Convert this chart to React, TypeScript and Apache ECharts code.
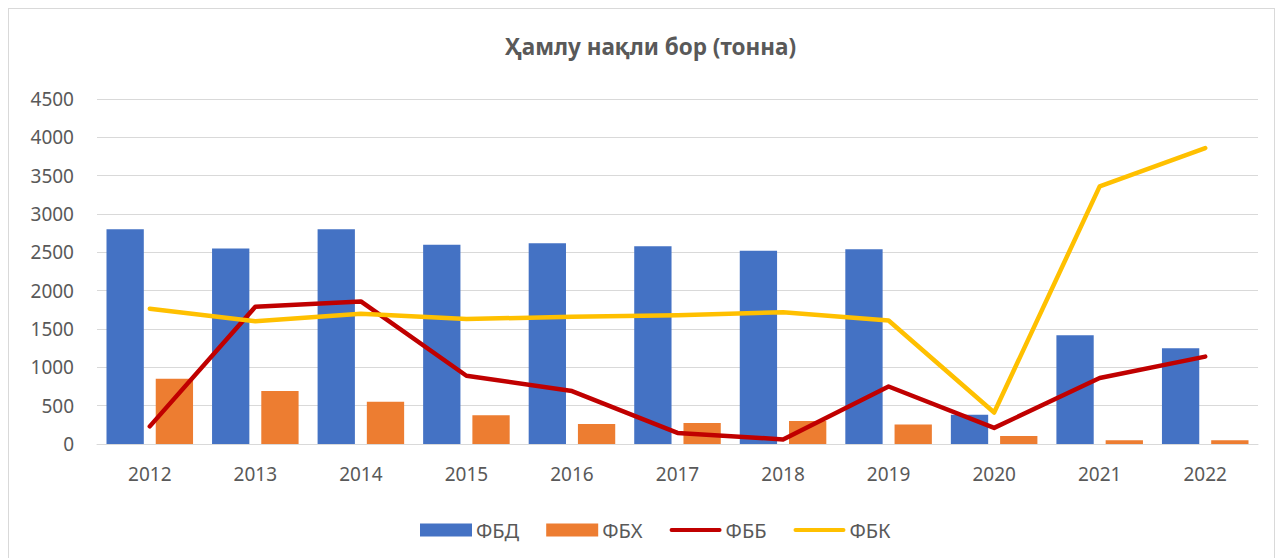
import React, { useEffect, useRef } from "react";
import * as echarts from "echarts";

const years = ["2012", "2013", "2014", "2015", "2016", "2017", "2018", "2019", "2020", "2021", "2022"];
const fbd = [2800, 2550, 2800, 2600, 2620, 2580, 2520, 2540, 380, 1420, 1250];
const fbh = [850, 690, 550, 375, 260, 275, 300, 255, 105, 50, 50];
const fbb = [230, 1790, 1860, 890, 690, 145, 60, 750, 210, 860, 1140];
const fbk = [1765, 1600, 1700, 1630, 1660, 1680, 1720, 1610, 410, 3360, 3860];
const title = "Ҳамлу нақли бор (тонна)";
const names = ["ФБД", "ФБХ", "ФББ", "ФБК"];

const FONT = "'Noto Sans', 'Open Sans', sans-serif";
const LINE_ICON = "path://M2,0 L50,0 A2,2 0 0 1 50,4 L2,4 A2,2 0 0 1 2,0 Z";

export default function App() {
  const ref = useRef<HTMLDivElement>(null);
  useEffect(() => {
    if (!ref.current) return;
    const chart = echarts.init(ref.current, null, { renderer: "svg" });
    chart.setOption({
      animation: false,
      graphic: [
        {
          type: "text",
          left: 496,
          top: 26,
          style: {
            text: title,
            fontFamily: FONT,
            fontSize: 22.5,
            fontWeight: "bold",
            fill: "#595959",
          },
        },
      ],
      grid: { left: 88, right: 16, top: 90, bottom: 115, containLabel: false },
      legend: {
        bottom: 14,
        left: 406,
        itemWidth: 52,
        itemHeight: 13,
        itemGap: 27,
        textStyle: { fontFamily: FONT, fontSize: 20, color: "#595959", padding: [0, 0, 0, -1] },
        data: [
          { name: names[0], icon: "rect" },
          { name: names[1], icon: "rect" },
          { name: names[2], icon: LINE_ICON },
          { name: names[3], icon: LINE_ICON },
        ],
      },
      xAxis: {
        type: "category",
        data: years,
        axisLine: { lineStyle: { color: "#d9d9d9", width: 1 } },
        axisTick: { show: false },
        axisLabel: { fontFamily: FONT, fontSize: 19, color: "#595959", margin: 20 },
      },
      yAxis: {
        type: "value",
        min: 0,
        max: 4500,
        interval: 500,
        axisLine: { show: false },
        axisTick: { show: false },
        splitLine: { lineStyle: { color: "#d9d9d9", width: 1 } },
        axisLabel: {
          fontFamily: FONT,
          fontSize: 19,
          color: "#595959",
          margin: 23,
          formatter: (v: number) => String(v),
        },
      },
      series: [
        {
          name: names[0],
          type: "bar",
          data: fbd,
          barGap: "32%",
          barCategoryGap: "18%",
          itemStyle: { color: "#4472C4" },
        },
        {
          name: names[1],
          type: "bar",
          data: fbh,
          itemStyle: { color: "#ED7D31" },
        },
        {
          name: names[2],
          type: "line",
          data: fbb,
          symbol: "none",
          lineStyle: { color: "#C00000", width: 4.5, cap: "round", join: "round" },
          itemStyle: { color: "#C00000" },
        },
        {
          name: names[3],
          type: "line",
          data: fbk,
          symbol: "none",
          lineStyle: { color: "#FFC000", width: 4.5, cap: "round", join: "round" },
          itemStyle: { color: "#FFC000" },
        },
      ],
    });
    return () => chart.dispose();
  }, []);
  return (
    <div
      ref={ref}
      style={{ width: 1267, height: 552, border: "1px solid #d9d9d9", boxSizing: "border-box", background: "#fff" }}
    />
  );
}
